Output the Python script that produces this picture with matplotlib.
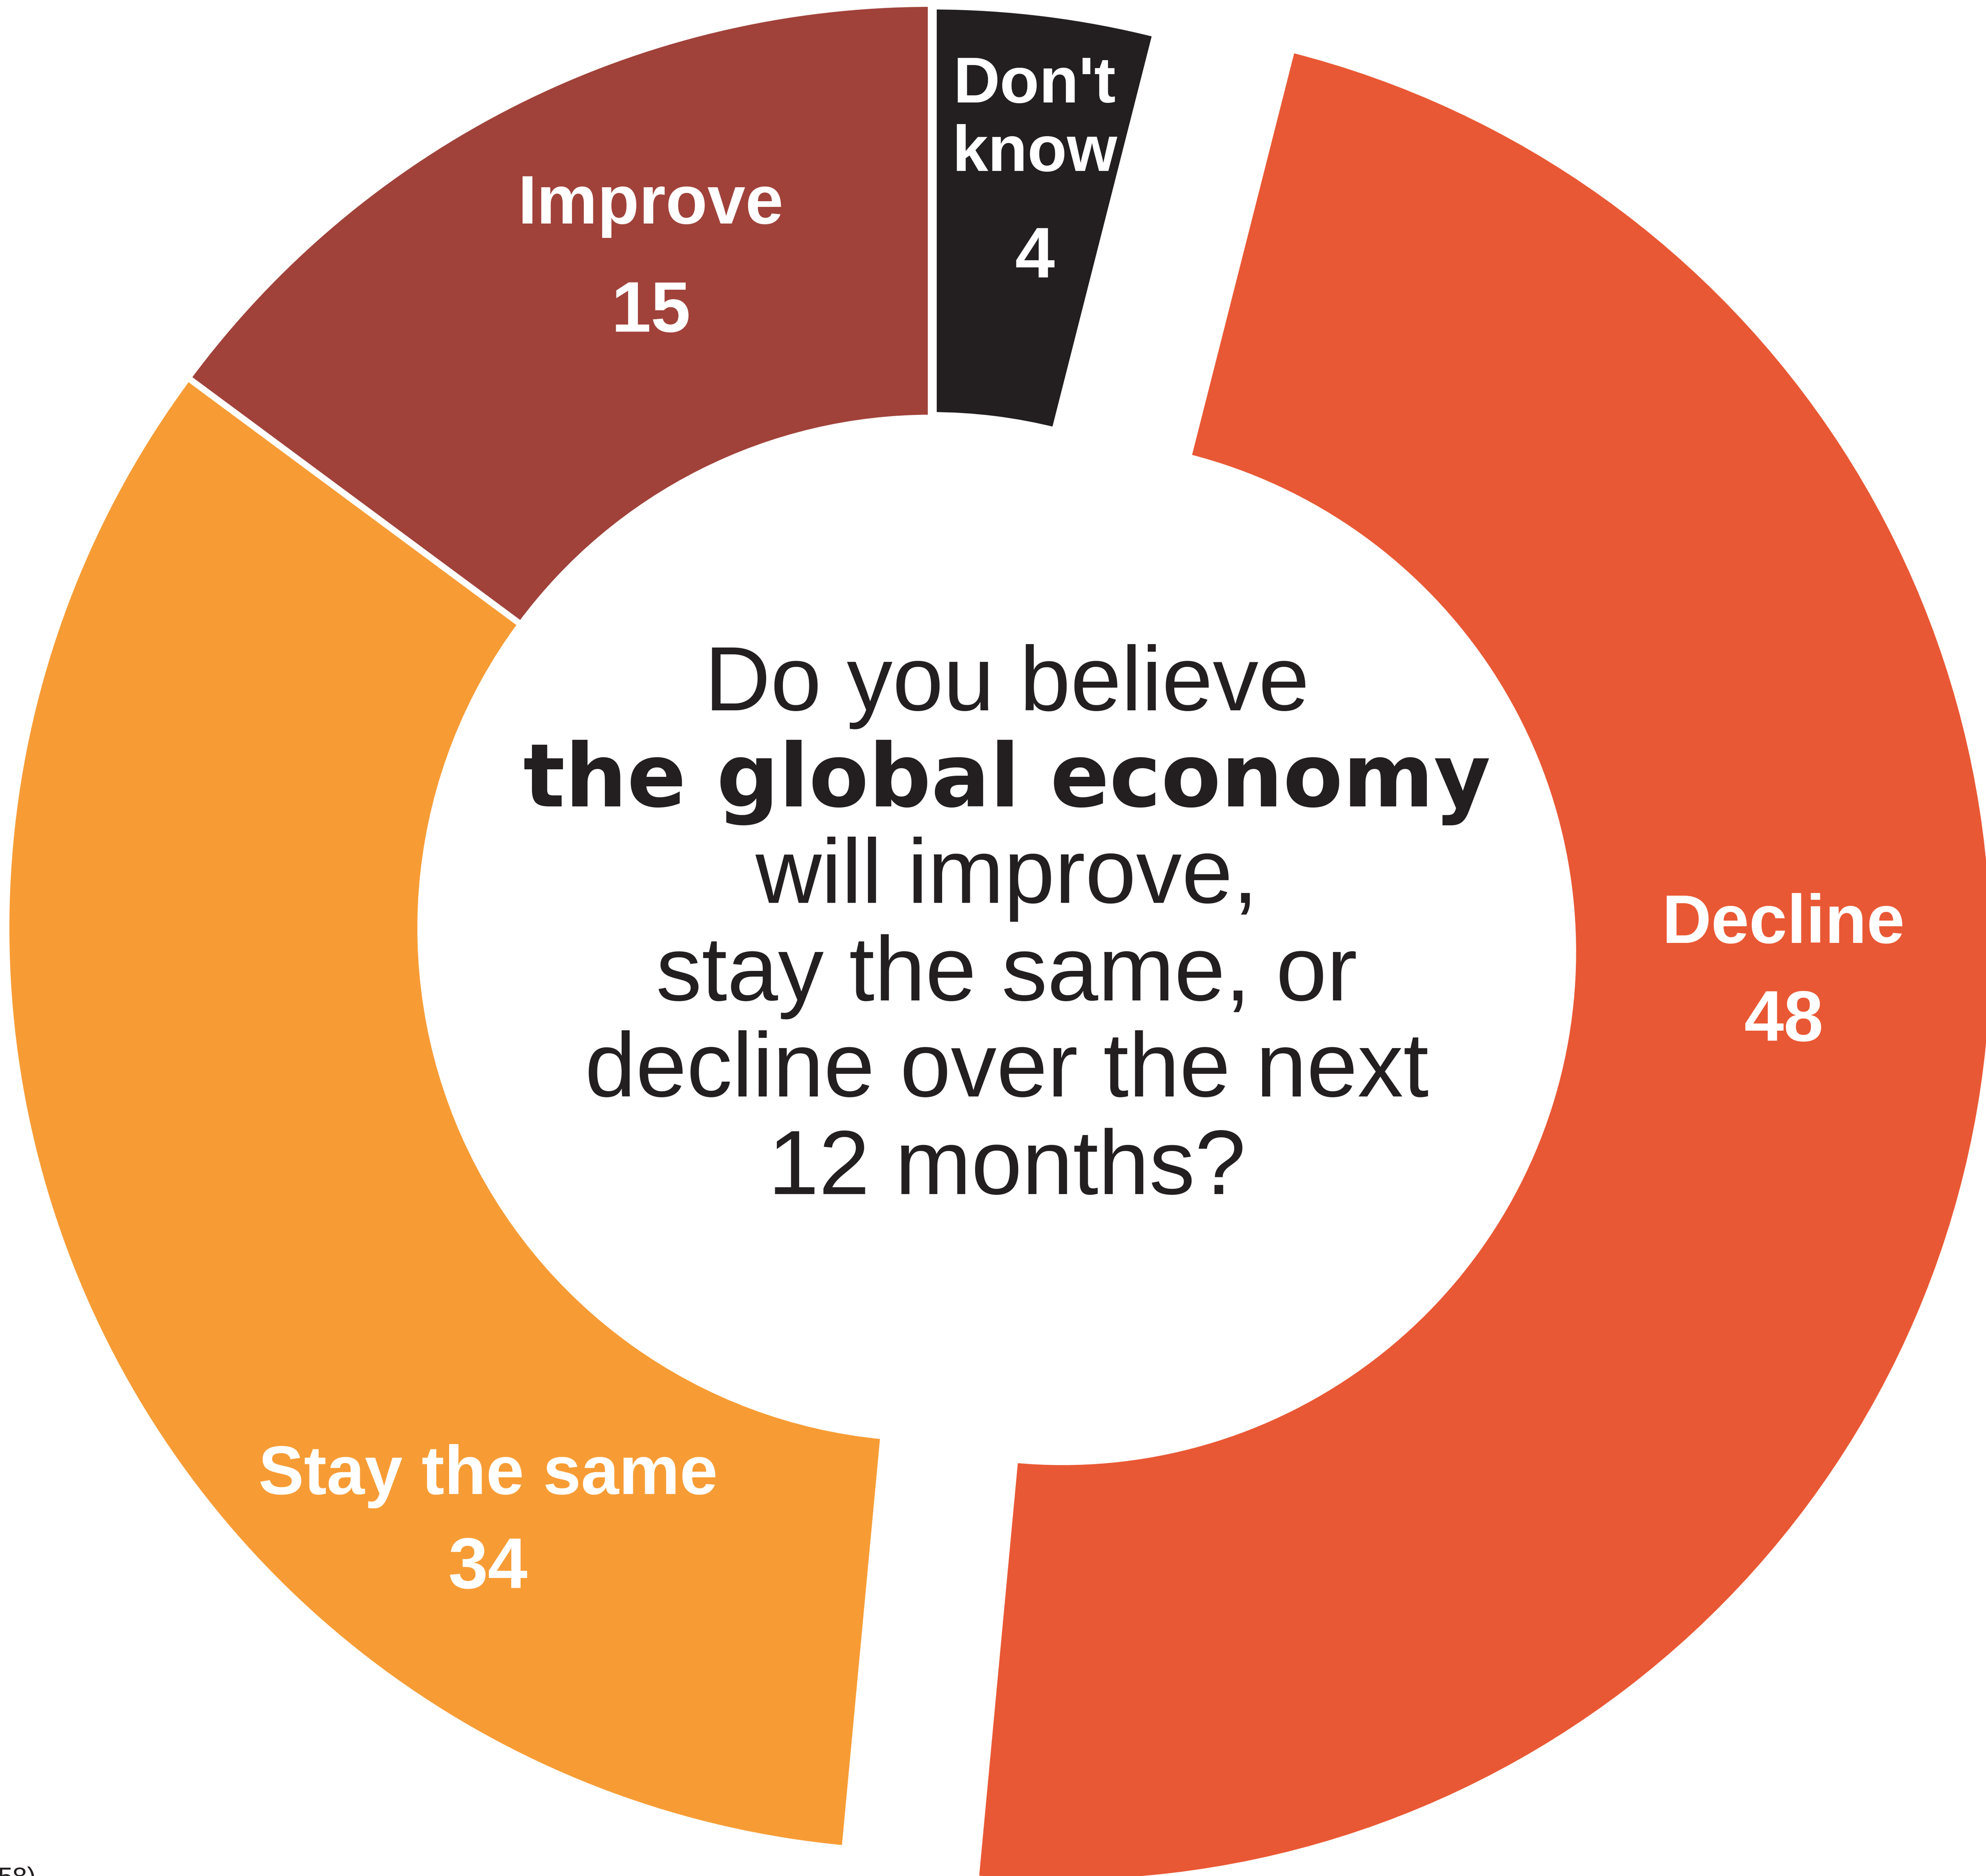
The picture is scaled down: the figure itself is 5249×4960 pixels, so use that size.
import matplotlib
matplotlib.use('Agg')
import matplotlib.pyplot as plt

# survey answers, in the order drawn clockwise from 12 o'clock
categories = ["Don't know", 'Decline', 'Stay the same', 'Improve']
values = [4, 48, 34, 15]
label_lines = [["Don't", 'know'], ['Decline'], ['Stay the same'], ['Improve']]

question_lines = ['Do you believe', 'the global economy', 'will improve,',
                  'stay the same, or', 'decline over the next', '12 months?']
question_bold = [False, True, False, False, False, False]
note_text = '58)'

colors = ['#231F20', '#E95834', '#F79C35', '#A0423A']
explode = [0, 0.15, 0, 0]

# label placement (data units, baseline of each line)
label_x = [0.112, 0.922, -0.479, -0.303]
label_y = [[0.893, 0.819], [-0.016], [-0.612], [0.762]]
value_y = [0.704, -0.122, -0.714, 0.645]
label_size = [123, 130, 130, 130]
question_y = [0.2356, 0.1315, 0.0274, -0.0781, -0.1822, -0.2876]

fig = plt.figure(figsize=(52.49, 49.60), dpi=100)
ax = fig.add_axes([0, 0, 1, 1])

wedges, _ = ax.pie(values, colors=colors, startangle=90, counterclock=False,
                   explode=explode, radius=1,
                   wedgeprops=dict(width=0.448, edgecolor='white', linewidth=12))
# wider white gap between "Improve" and "Don't know"
wedges[0].set_linewidth(22)
# the pulled-out slice sits a touch further left and is a bit thicker
cx, cy = wedges[1].center
wedges[1].set_center((cx - 0.0055, cy))
wedges[1].set_radius(1.007)
wedges[1].set_width(0.455)

ax.set_xlim(-1.00675, 1.14096)
ax.set_ylim(-1.02545, 1.00401)
ax.set_aspect('auto')
ax.axis('off')

for i in range(len(categories)):
    for line, y in zip(label_lines[i], label_y[i]):
        ax.text(label_x[i], y, line, ha='center', va='baseline', color='white',
                fontsize=label_size[i], fontweight='bold', family='Liberation Sans')
    ax.text(label_x[i], value_y[i], str(values[i]), ha='center', va='baseline',
            color='white', fontsize=136, fontweight='bold', family='Liberation Sans')

for line, bold, y in zip(question_lines, question_bold, question_y):
    if bold:
        ax.text(0.082, y, line, ha='center', va='baseline', color='#231F20',
                fontsize=166, fontweight='bold', family='DejaVu Sans')
    else:
        ax.text(0.082, y, line, ha='center', va='baseline', color='#231F20',
                fontsize=174, family='Liberation Sans')

# source note, cut off by the bottom edge as in the original
ax.text(-0.968, -1.0356, note_text, ha='right', va='baseline', color='#231F20',
        fontsize=50, family='Liberation Sans', clip_on=False)

fig.savefig('out.png', dpi=100, facecolor='white')
